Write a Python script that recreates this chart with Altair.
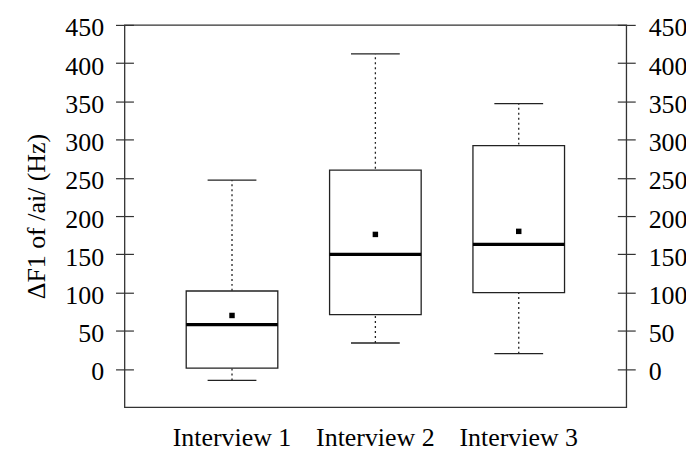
import altair as alt
import pandas as pd

# Data
interviews = ["Interview 1", "Interview 2", "Interview 3"]
whisker_low = [-15, 34, 20]
q1 = [1, 71, 100]
median = [58, 150, 163]
q3 = [102, 260, 292]
whisker_high = [247, 412, 347]
mean = [70, 176, 180]

y_ticks = [0, 50, 100, 150, 200, 250, 300, 350, 400, 450]

df = pd.DataFrame({
    "interview": interviews,
    "low": whisker_low,
    "q1": q1,
    "median": median,
    "q3": q3,
    "high": whisker_high,
    "mean": mean,
})

FONT = "Liberation Serif"
FS = 26
INK = "#222222"

x_enc = alt.X(
    "interview:N",
    sort=interviews,
    scale=alt.Scale(paddingInner=0, paddingOuter=0.25),
    axis=alt.Axis(
        title=None, ticks=False, tickSize=0, domain=False, grid=False,
        labelAngle=0, labelPadding=38, labelBaseline="alphabetic",
        labelFont=FONT, labelFontSize=FS, labelColor="black",
    ),
)

y_scale = alt.Scale(domain=[-50, 450], nice=False, zero=False)

left_axis = alt.Axis(
    orient="left", values=y_ticks, offset=-9, tickSize=18, tickWidth=1.2,
    tickColor="#333333", domain=False, grid=False, labelPadding=12,
    labelOffset=3, labelFont=FONT, labelFontSize=FS, labelColor="black",
    title="\u0394F1 of /ai/ (Hz)", titleFont=FONT, titleFontSize=FS,
    titleFontWeight="normal", titleColor="black", titlePadding=15,
)
right_axis = alt.Axis(
    orient="right", values=y_ticks, offset=-9, tickSize=18, tickWidth=1.2,
    tickColor="#333333", domain=False, grid=False, labelPadding=13,
    labelOffset=3, labelFont=FONT, labelFontSize=FS, labelColor="black",
)

base = alt.Chart(df)

whiskers = base.mark_rule(color=INK, strokeWidth=1.3, strokeDash=[2, 3], opacity=1).encode(
    x=x_enc,
    y=alt.Y("low:Q", scale=y_scale, axis=left_axis),
    y2="high:Q",
)

cap_low = base.mark_tick(color=INK, size=49, thickness=1.3, opacity=1).encode(
    x=x_enc, y=alt.Y("low:Q", scale=y_scale, axis=None)
)
cap_high = base.mark_tick(color=INK, size=49, thickness=1.3, opacity=1).encode(
    x=x_enc, y=alt.Y("high:Q", scale=y_scale, axis=None)
)

boxes = base.mark_bar(fill="white", stroke=INK, strokeWidth=1.3, size=92, opacity=1).encode(
    x=x_enc,
    y=alt.Y("q1:Q", scale=y_scale, axis=right_axis, title=None),
    y2="q3:Q",
)

medians = base.mark_tick(color="black", size=92, thickness=3.2, opacity=1).encode(
    x=x_enc, y=alt.Y("median:Q", scale=y_scale, axis=None)
)

means = base.mark_square(color="black", size=30, opacity=1).encode(
    x=x_enc, y=alt.Y("mean:Q", scale=y_scale, axis=None)
)

chart = (
    alt.layer(whiskers, cap_low, cap_high, boxes, medians, means)
    .resolve_axis(y="independent")
    .properties(
        width=504,
        height=384,
        autosize=alt.AutoSizeParams(type="none"),
        padding={"left": 117, "top": 16, "right": 60, "bottom": 45},
        background="white",
    )
    .configure_view(stroke="#333333", strokeWidth=1.3)
    .configure_axis(labelFont=FONT, titleFont=FONT, labelFontSize=FS, titleFontSize=FS)
)

chart.save("out.html", embed_options={"renderer": "svg", "actions": False})
